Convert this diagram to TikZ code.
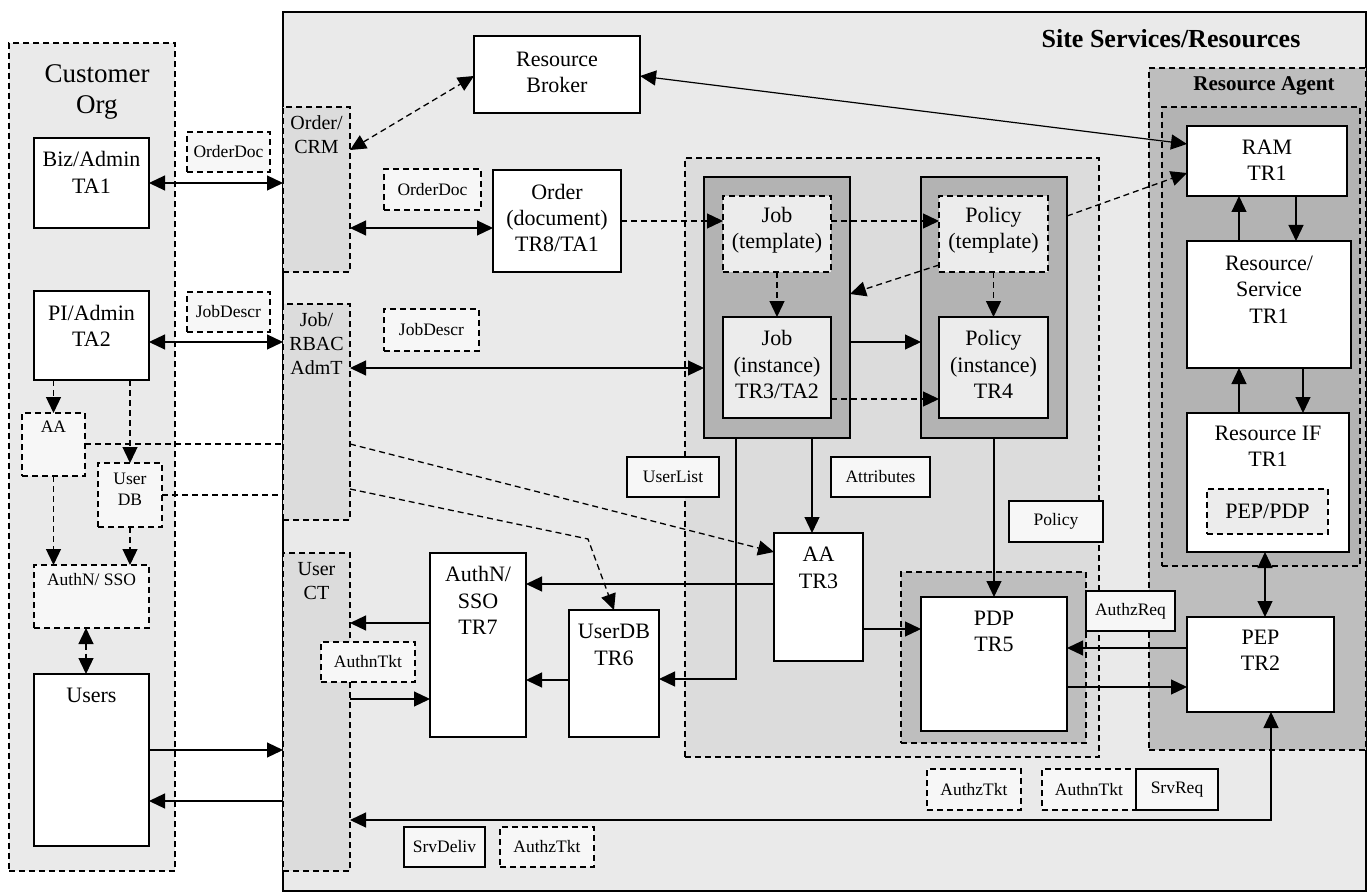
\documentclass[tikz,border=0pt]{standalone}
\usepackage{fontspec}
\setmainfont{Liberation Serif}
\usetikzlibrary{arrows.meta,fit}

\definecolor{cbg}{HTML}{EAEAEA}
\definecolor{tabc}{HTML}{DCDCDC}
\definecolor{panel}{HTML}{B3B3B3}
\definecolor{pdpc}{HTML}{BEBEBE}
\definecolor{rac}{HTML}{BEBEBE}
\definecolor{ramc}{HTML}{B3B3B3}
\definecolor{innerc}{HTML}{ECECEC}
\definecolor{lbl}{HTML}{F7F7F7}

% rectangle node spanning two corner points
\newcommand\bx[4]{\node[fit={(#3) (#4)}, #2] (#1) {};}
% rectangle node with a centred caption
\newcommand\lb[5]{\node[fit={(#3) (#4)}, #2] (#1) {};
  \node[small] (#1-t) at (#1.center) {#5};}

\begin{document}
\begin{tikzpicture}[x=1pt,y=-1pt,
  every node/.style={inner sep=0pt, outer sep=0pt},
  ln/.style={line width=1.2pt},
  dsh/.style={line width=1.3pt, dash pattern=on 6pt off 4pt},
  arr/.style={-{Triangle[length=16pt,width=15pt]}},
  barr/.style={{Triangle[length=16pt,width=15pt]}-{Triangle[length=16pt,width=15pt]}},
  sbox/.style={draw, line width=1.4pt},
  dbox/.style={draw, line width=1.4pt, dash pattern=on 6pt off 4pt},
  main/.style={font=\fontsize{22}{26.4}\selectfont, align=center},
  tab/.style={font=\fontsize{20}{24}\selectfont, align=center},
  small/.style={font=\fontsize{17.5}{21}\selectfont, align=center},
  slbl/.style={sbox, fill=lbl},
  dlbl/.style={dbox, fill=lbl},
]
\useasboundingbox (0,0) rectangle (1368,896);

% ---------- regions ----------
\bx{site}{sbox, fill=cbg}{283,12}{1366,891}
\node[font=\bfseries\fontsize{26}{30}\selectfont] (site-t) at (1171,39) {Site Services/Resources};

\bx{cust}{dbox, fill=cbg}{9,43}{175,871}
\node[font=\fontsize{27}{31}\selectfont, align=center] (cust-t) at (97,91.5) {Customer\\Org};

\bx{ocrm}{dbox, fill=tabc}{283,107}{350,272}
\node[tab] (ocrm-t) at (316.5,135) {Order/\\CRM};
\bx{jra}{dbox, fill=tabc}{283,304}{350,520}
\node[tab] (jra-t) at (316.5,343.5) {Job/\\RBAC\\AdmT};
\bx{uct}{dbox, fill=tabc}{283,553}{350,871}
\node[tab] (uct-t) at (316.5,581) {User\\CT};

\bx{polreg}{dbox, fill=tabc}{685,158}{1099,757}
\bx{jobp}{sbox, fill=panel}{704,177}{850,438}
\bx{polp}{sbox, fill=panel}{921,177}{1067,438}
\bx{pdpreg}{dbox, fill=pdpc}{901,572}{1086,743}

\bx{ra}{dbox, fill=rac}{1149,68}{1366,750}
\node[font=\bfseries\fontsize{21}{25}\selectfont] (ra-t) at (1264,86) {Resource Agent};
\bx{ramreg}{dbox, fill=ramc}{1162,107}{1360,566}

% ---------- customer side ----------
\bx{biz}{sbox, fill=white}{34,138}{149,228}
\node[main] (biz-t) at (91.5,172.5) {Biz/Admin\\TA1};
\bx{pi}{sbox, fill=white}{34,291}{149,380}
\node[main] (pi-t) at (91.5,326) {PI/Admin\\TA2};
\bx{aac}{dbox, fill=lbl}{22,413}{85,476}
\node[small] (aac-t) at (53.5,427) {AA};
\bx{udbc}{dbox, fill=lbl}{98,463}{162,527}
\node[small] (udbc-t) at (130,489.5) {User\\DB};
\bx{anc}{dbox, fill=lbl}{34,565}{149,628}
\node[small] (anc-t) at (91.5,580) {AuthN/ SSO};
\bx{users}{sbox, fill=white}{34,674}{149,846}
\node[main] (users-t) at (91.5,695) {Users};

% ---------- site services ----------
\bx{rb}{sbox, fill=white}{474,36}{640,113}
\node[main] (rb-t) at (557,72.5) {Resource\\Broker};
\bx{ord}{sbox, fill=white}{493,170}{621,272}
\node[main] (ord-t) at (557,218) {Order\\(document)\\TR8/TA1};

\bx{jobt}{dbox, fill=innerc}{723,196}{831,272}
\node[main] (jobt-t) at (777,230.5) {Job\\(template)};
\bx{jobi}{sbox, fill=innerc}{723,317}{831,418}
\node[main] (jobi-t) at (777,364.5) {Job\\(instance)\\TR3/TA2};
\bx{polt}{dbox, fill=innerc}{939,196}{1048,272}
\node[main] (polt-t) at (993.5,230.5) {Policy\\(template)};
\bx{poli}{sbox, fill=innerc}{939,317}{1048,418}
\node[main] (poli-t) at (993.5,364.5) {Policy\\(instance)\\TR4};

\bx{aa3}{sbox, fill=white}{774,533}{863,661}
\node[main] (aa3-t) at (818.5,568) {AA\\TR3};
\bx{an7}{sbox, fill=white}{430,553}{526,737}
\node[main] (an7-t) at (478,600.5) {AuthN/\\SSO\\TR7};
\bx{udb6}{sbox, fill=white}{569,610}{659,737}
\node[main] (udb6-t) at (614,645) {UserDB\\TR6};
\bx{pdp}{sbox, fill=white}{921,597}{1067,731}
\node[main] (pdp-t) at (994,631.5) {PDP\\TR5};

\bx{ram}{sbox, fill=white}{1187,126}{1347,196}
\node[main] (ram-t) at (1267,160) {RAM\\TR1};
\bx{rs}{sbox, fill=white}{1187,241}{1351,368}
\node[main] (rs-t) at (1269,289.5) {Resource/\\Service\\TR1};
\bx{rif}{sbox, fill=white}{1187,413}{1349,552}
\node[main] (rif-t) at (1268,446) {Resource IF\\TR1};
\bx{peppdp}{dbox, fill=innerc}{1207,489}{1328,534}
\node[main] (peppdp-t) at (peppdp.center) {PEP/PDP};
\bx{pep}{sbox, fill=white}{1187,617}{1334,712}
\node[main] (pep-t) at (1260.5,650) {PEP\\TR2};

% ---------- connectors ----------
\draw[ln,barr] (biz.east |- 0,183) -- (ocrm.west |- 0,183);
\draw[ln,barr] (pi.east |- 0,342) -- (jra.west |- 0,342);
\draw[dsh,arr] (aac.north |- pi.south) -- (aac.north);
\draw[dsh,arr] (udbc.north |- pi.south) -- (udbc.north);
\draw[dsh,arr] (aac.south) -- (aac.south |- anc.north);
\draw[dsh,arr] (udbc.south) -- (udbc.south |- anc.north);
\draw[dsh,barr] (anc.south -| 86,0) -- (users.north -| 86,0);
\draw[dsh] (aac.east |- 0,444) -- (jra.west |- 0,444);
\draw[dsh] (udbc.east |- 0,495) -- (jra.west |- 0,495);
\draw[ln,arr] (users.east |- 0,750) -- (uct.west |- 0,750);
\draw[ln,arr] (uct.west |- 0,801) -- (users.east |- 0,801);

\draw[dsh,barr] (ocrm.east |- 0,150) -- (rb.west |- 0,76);
\draw[ln,barr] (rb.east |- 0,76) -- (ram.west |- 0,144);
\draw[ln,barr] (ocrm.east |- 0,228) -- (ord.west |- 0,228);
\draw[dsh,arr] (ord.east |- 0,221) -- (jobt.west |- 0,221);
\draw[dsh,arr] (jobt.east |- 0,221) -- (polt.west |- 0,221);
\draw[dsh,arr] (jobt.south) -- (jobi.north);
\draw[dsh,arr] (polt.south) -- (poli.north);
\draw[dsh,arr] (polt.west |- 0,265) -- (jobp.east |- 0,294);
\draw[dsh,arr] (polp.east |- 0,216) -- (ram.west |- 0,173);
\draw[ln,arr] (jobp.east |- 0,342) -- (polp.west |- 0,342);
\draw[dsh,arr] (jobi.east |- 0,399) -- (poli.west |- 0,399);
\draw[ln,barr] (jra.east |- 0,368) -- (jobp.west |- 0,368);

\draw[dsh,arr] (jra.east |- 0,444) -- (aa3.west |- 0,552);
\coordinate (bend) at (588,539);
\draw[dsh,arr] (jra.east |- 0,489) -- (bend) -- (udb6.north);
\draw[ln,arr] (jobp.south -| 812,0) -- (aa3.north -| 812,0);
\draw[ln,arr] (jobp.south -| 736,0) |- (udb6.east |- 0,679);
\draw[ln,arr] (polp.south) -- (pdp.north);
\draw[ln,arr] (aa3.west |- 0,584) -- (an7.east |- 0,584);
\draw[ln,arr] (aa3.east |- 0,629) -- (pdp.west |- 0,629);
\draw[ln,arr] (an7.west |- 0,623) -- (uct.east |- 0,623);
\draw[ln,arr] (uct.east |- 0,699) -- (an7.west |- 0,699);
\draw[ln,arr] (udb6.west |- 0,680) -- (an7.east |- 0,680);
\draw[ln,arr] (pep.west |- 0,648) -- (pdp.east |- 0,648);
\draw[ln,arr] (pdp.east |- 0,687) -- (pep.west |- 0,687);

\draw[ln,barr] (rif.south -| 1265,0) -- (pep.north -| 1265,0);
\draw[ln,arr] (rs.north -| 1239,0) -- (ram.south -| 1239,0);
\draw[ln,arr] (ram.south -| 1296,0) -- (rs.north -| 1296,0);
\draw[ln,arr] (rif.north -| 1239,0) -- (rs.south -| 1239,0);
\draw[ln,arr] (rs.south -| 1303,0) -- (rif.north -| 1303,0);
\draw[ln,barr] (uct.east |- 0,820) -| (pep.south -| 1271,0);

% ---------- message labels ----------
\lb{odoc1}{dlbl}{187,132}{270,172}{OrderDoc}
\lb{odoc2}{dlbl}{384,169}{481,210}{OrderDoc}
\lb{jdesc1}{dlbl}{187,292}{270,332}{JobDescr}
\lb{jdesc2}{dlbl}{384,309}{479,351}{JobDescr}
\lb{ulist}{slbl}{627,457}{719,497}{UserList}
\lb{attr}{slbl}{831,457}{930,497}{Attributes}
\lb{pol}{slbl}{1009,501}{1103,542}{Policy}
\lb{azreq}{slbl}{1086,591}{1175,631}{AuthzReq}
\lb{antkt1}{dlbl}{321,642}{415,682}{AuthnTkt}
\lb{aztkt1}{dlbl}{927,769}{1021,810}{AuthzTkt}
\lb{antkt2}{dlbl}{1042,769}{1136,810}{AuthnTkt}
\lb{srvreq}{slbl}{1136,769}{1218,810}{SrvReq}
\lb{srvdel}{slbl}{404,827}{485,867}{SrvDeliv}
\lb{aztkt2}{dlbl}{500,827}{594,867}{AuthzTkt}
\end{tikzpicture}
\end{document}
